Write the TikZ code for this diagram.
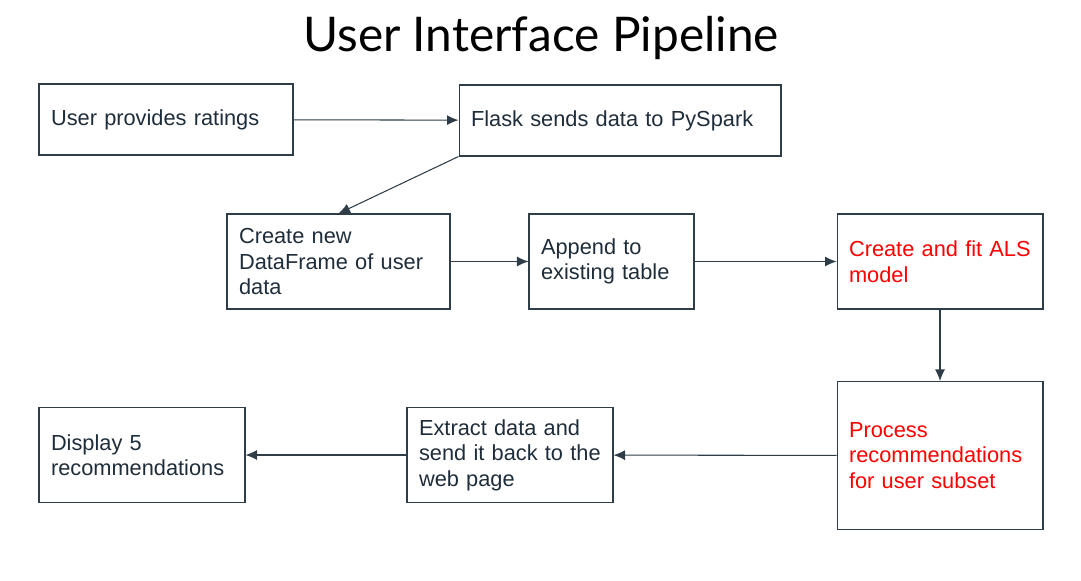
\documentclass[tikz,border=0pt]{standalone}
\usepackage{fontspec}
\setmainfont{Liberation Sans}
\newfontfamily\titlefont{Lato}
\usepackage{xcolor}
\usepackage{tikz}
\usetikzlibrary{arrows.meta}

\definecolor{inkdark}{HTML}{1F2D3A}
\definecolor{boxline}{HTML}{2E3D48}

\tikzset{
  blocco/.style={draw=boxline, line width=0.6pt, text=inkdark, align=left,
    inner xsep=0.24cm, inner ysep=0pt, font=\fontsize{12.4}{14.5}\selectfont},
  rosso/.style={text=red},
  freccia/.style={-{Latex[length=2.3mm,width=2mm]}, draw=boxline, line width=0.6pt}
}

\begin{document}
\hfuzz=20pt
\begin{tikzpicture}[x=0.02cm, y=-0.02cm]
        \useasboundingbox (0,0) rectangle (1081,581);

        % Titolo
        \node[anchor=base, font=\titlefont\fontsize{27.2}{30}\selectfont] (titolo)
          at (541,52) {User Interface Pipeline};

        % Blocchi
        \node[blocco, text width=4.6cm, minimum height=1.42cm] (rating)
          at (166,119.5) {\raisebox{-3pt}{User provides ratings}};
        \node[blocco, text width=5.96cm, minimum height=1.42cm] (flask)
          at (620,120.5) {\raisebox{-3pt}{Flask sends data to PySpark}};
        \node[blocco, text width=3.98cm, minimum height=1.9cm] (frame)
          at (338.5,261.5) {\mbox{Create new}\\\mbox{DataFrame of user}\\data};
        \node[blocco, text width=2.82cm, minimum height=1.9cm] (append)
          at (611.5,261.5) {\mbox{Append to}\\\mbox{existing table}};
        \node[blocco, rosso, text width=3.64cm, minimum height=1.9cm] (als)
          at (940,261.5) {\mbox{Create and fit ALS}\\model};
        \node[blocco, rosso, text width=3.64cm, minimum height=2.96cm] (process)
          at (940,455.5) {Process\\recommendations\\\mbox{for user subset}};
        \node[blocco, text width=3.64cm, minimum height=1.9cm] (extract)
          at (510,455) {\mbox{Extract data and}\\\mbox{send it back to the}\\\mbox{web page}};
        \node[blocco, text width=3.64cm, minimum height=1.9cm] (display)
          at (142,455) {\mbox{Display 5}\\recommendations};

        % Frecce
        \draw[freccia] (rating) -- (flask);
        \draw[freccia] (flask.south west) -- (frame.north);
        \draw[freccia] (frame) -- (append);
        \draw[freccia] (append) -- (als);
        \draw[freccia] (als) -- (process);
        \draw[freccia] (process) -- (extract);
        \draw[freccia] (extract) -- (display);
      \end{tikzpicture}
\end{document}
